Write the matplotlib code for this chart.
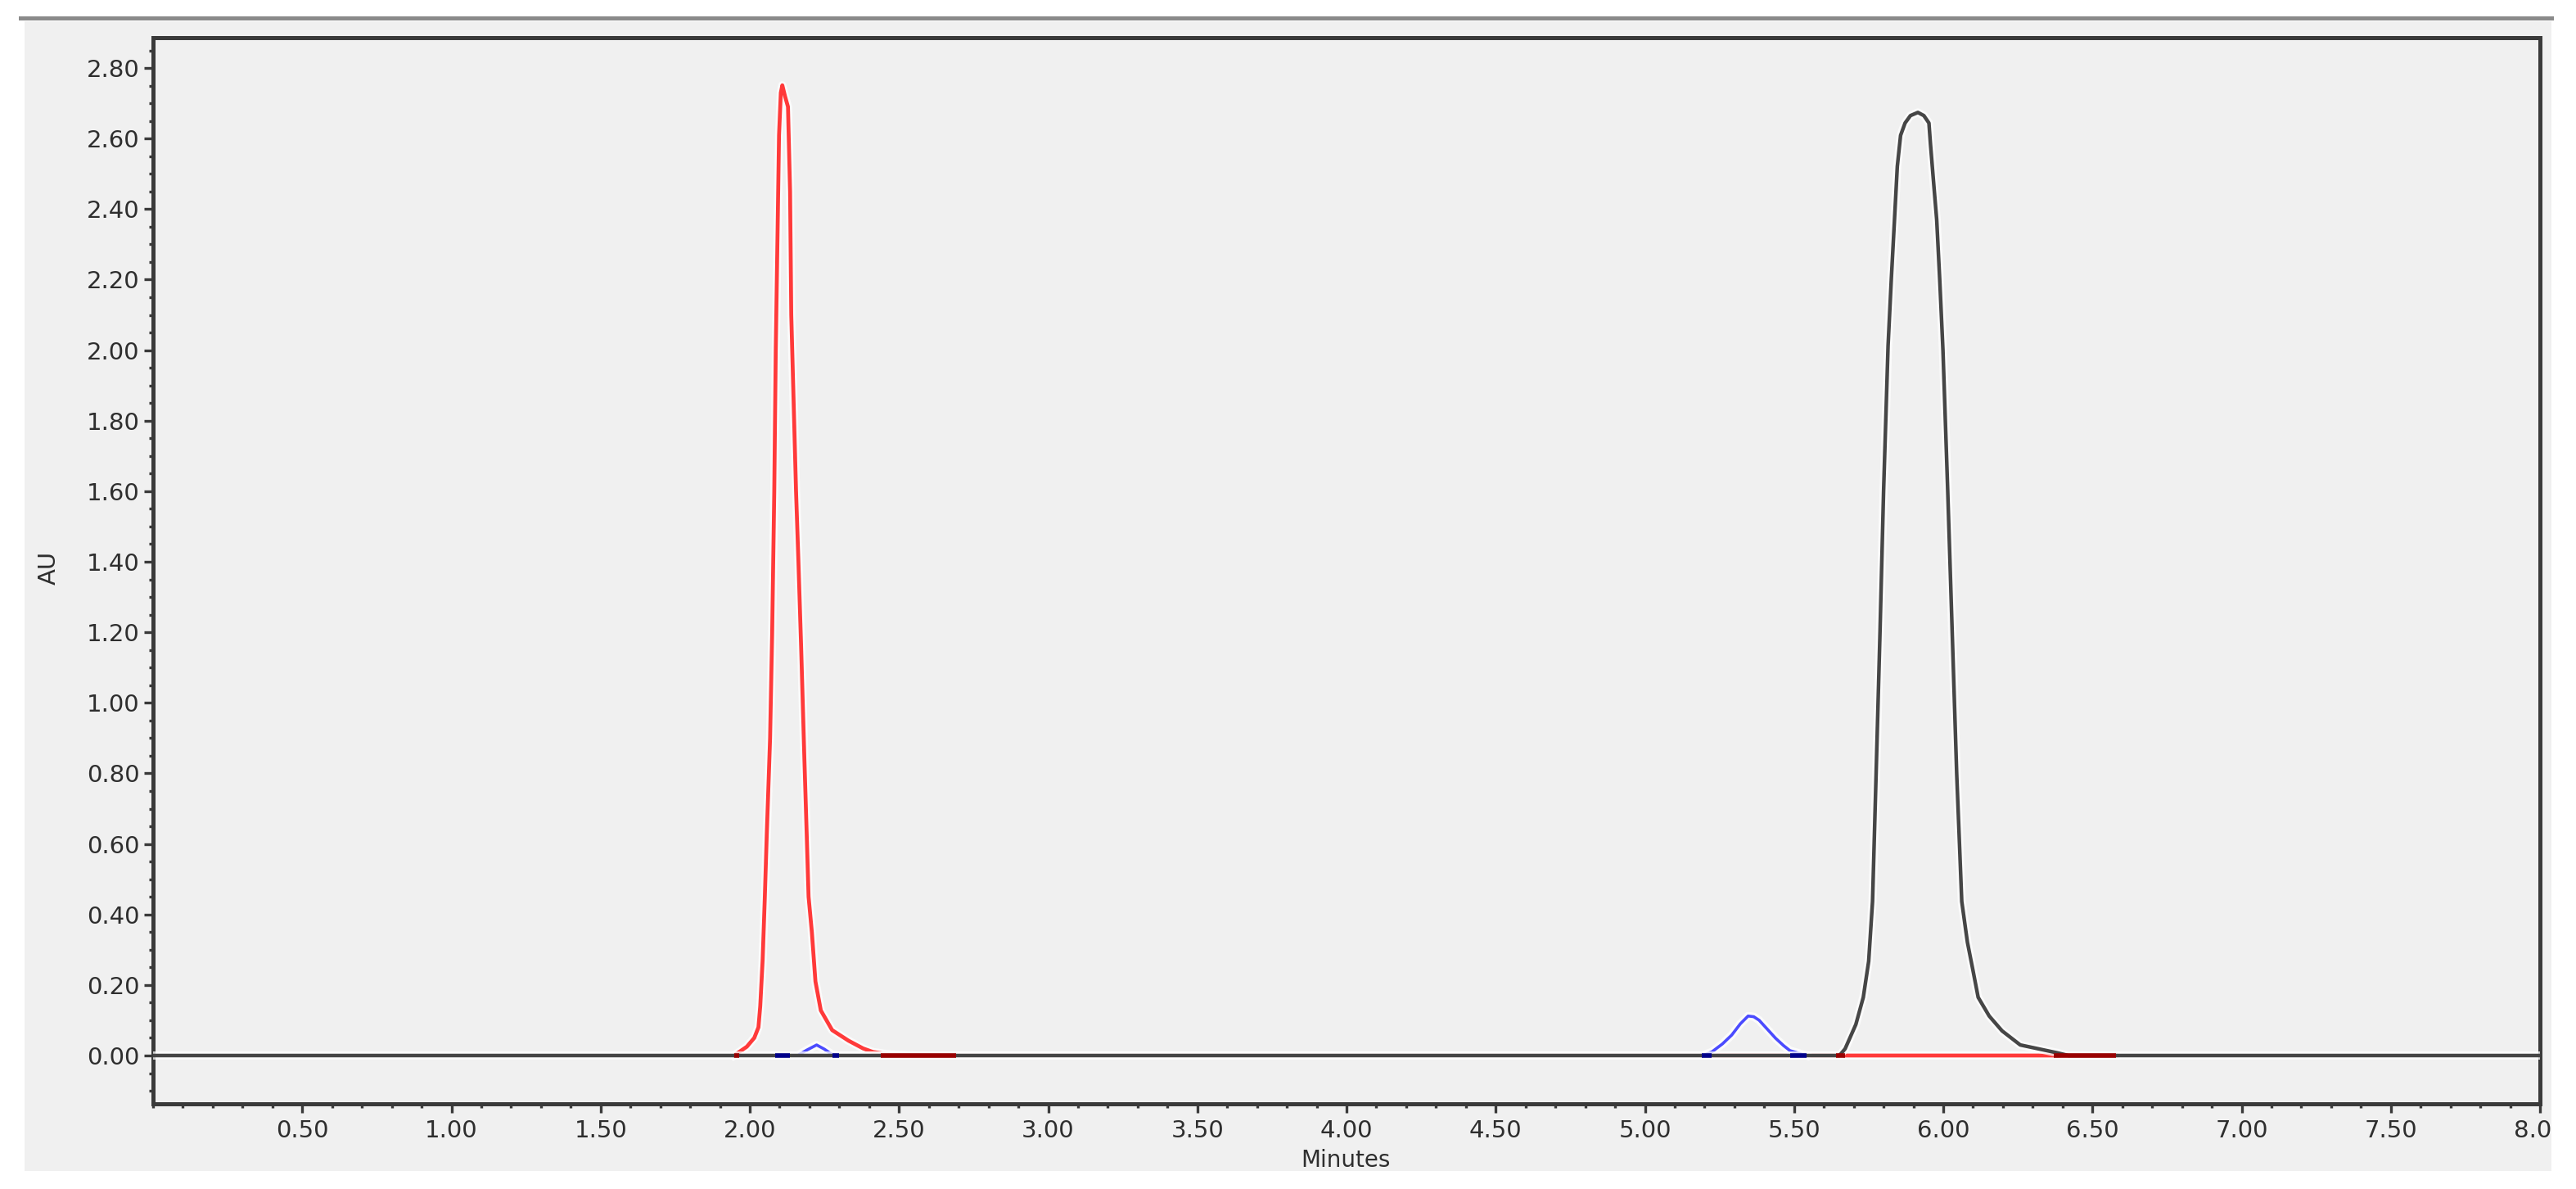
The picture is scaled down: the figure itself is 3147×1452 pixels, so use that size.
import matplotlib
matplotlib.use("Agg")
import matplotlib.pyplot as plt
import matplotlib.patheffects as pe
from matplotlib.patches import Rectangle
from matplotlib.lines import Line2D
from matplotlib.ticker import MultipleLocator, FixedLocator
from matplotlib.transforms import Bbox, TransformedBbox

plt.rcParams['font.family'] = ['DejaVu Sans']

# red trace (minutes, AU)
red_t = [1.947, 1.99, 2.015, 2.029, 2.035, 2.043, 2.050, 2.057, 2.068, 2.075,
         2.082, 2.087, 2.093, 2.098, 2.104, 2.109, 2.118, 2.128, 2.135, 2.139,
         2.147, 2.155, 2.163, 2.172, 2.183, 2.191, 2.197, 2.208, 2.220, 2.238,
         2.276, 2.331, 2.38, 2.413, 2.46, 2.55, 2.69, 5.64, 6.58]
red_au = [0.0, 0.025, 0.05, 0.08, 0.14, 0.27, 0.44, 0.63, 0.90, 1.20,
          1.60, 2.00, 2.33, 2.61, 2.73, 2.751, 2.72, 2.69, 2.45, 2.10,
          1.85, 1.60, 1.40, 1.16, 0.84, 0.62, 0.45, 0.35, 0.21, 0.128,
          0.072, 0.042, 0.02, 0.010, 0.004, 0.0, 0.0, 0.0, 0.0]

# black trace
black_t = [0.0, 5.652, 5.671, 5.707, 5.732, 5.750, 5.763, 5.775, 5.788, 5.800,
           5.815, 5.826, 5.836, 5.846, 5.857, 5.872, 5.890, 5.915, 5.935, 5.952,
           5.957, 5.967, 5.978, 5.988, 5.999, 6.015, 6.030, 6.045, 6.062, 6.081,
           6.099, 6.117, 6.154, 6.197, 6.258, 6.319, 6.380, 6.42, 8.0]
black_au = [0.0, 0.0, 0.019, 0.088, 0.165, 0.267, 0.437, 0.80, 1.20, 1.60,
            2.012, 2.203, 2.361, 2.521, 2.609, 2.644, 2.665, 2.674, 2.665, 2.644,
            2.586, 2.482, 2.370, 2.203, 2.0, 1.60, 1.20, 0.80, 0.437, 0.321,
            0.244, 0.165, 0.112, 0.070, 0.030, 0.019, 0.008, 0.0, 0.0]

# blue trace
blue_t = [2.084, 2.160, 2.190, 2.224, 2.250, 2.276, 2.30,
          5.192, 5.224, 5.260, 5.291, 5.320, 5.346, 5.365, 5.383, 5.410,
          5.438, 5.465, 5.486, 5.542]
blue_au = [0.0, 0.0, 0.015, 0.03, 0.018, 0.003, 0.0,
           0.0, 0.01, 0.033, 0.058, 0.09, 0.112, 0.110, 0.10, 0.075,
           0.049, 0.028, 0.014, 0.0]

# integration baseline marks (start, end) in minutes
red_marks = [(1.947, 1.964), (2.44, 2.69), (5.64, 5.67), (6.37, 6.58)]
blue_marks = [(2.084, 2.134), (2.276, 2.30), (5.192, 5.224), (5.486, 5.542)]

y_ticks = [0.0, 0.2, 0.4, 0.6, 0.8, 1.0, 1.2, 1.4, 1.6, 1.8, 2.0, 2.2, 2.4, 2.6, 2.8]
x_ticks = [0.5, 1.0, 1.5, 2.0, 2.5, 3.0, 3.5, 4.0, 4.5, 5.0, 5.5, 6.0, 6.5, 7.0, 7.5, 8.0]

W, H = 3147, 1452
fig = plt.figure(figsize=(W / 200, H / 200), dpi=200, facecolor='white')

# grey panel behind everything, with the dark rule along the top
fig.patches.append(Rectangle((30 / W, 1 - 1430 / H), 3087 / W, 1404 / H,
                             transform=fig.transFigure, facecolor='#f0f0f0',
                             edgecolor='none', zorder=-10))
fig.lines.append(Line2D([25 / W, 3117 / W], [1 - 22 / H, 1 - 22 / H],
                        transform=fig.transFigure, color='#8a8a8a', lw=1.8))

ax = fig.add_axes([187 / W, 1 - 1348 / H, 2916 / W, 1302 / H])
ax.set_facecolor('#f0f0f0')

halo = [pe.withStroke(linewidth=3.6, foreground='white', alpha=0.75)]
ax.plot(red_t, red_au, color='#ff3a3a', lw=1.7, zorder=2, path_effects=halo)
ax.plot(blue_t, blue_au, color='#4b4bff', lw=1.3, zorder=3, path_effects=halo)
ax.plot(black_t, black_au, color='#464646', lw=1.6, zorder=4, path_effects=halo)

for a, b in red_marks:
    ax.hlines(0, a, b, color='#9a0000', lw=2.0, zorder=5)
for a, b in blue_marks:
    ax.hlines(0, a, b, color='#00008b', lw=2.0, zorder=5)

ax.set_xlim(0, 8.0)
ax.set_ylim(-0.137, 2.886)

ax.yaxis.set_major_locator(FixedLocator(y_ticks))
ax.set_yticklabels(['%.2f' % v for v in y_ticks])
ax.yaxis.set_minor_locator(MultipleLocator(0.05))
ax.xaxis.set_major_locator(FixedLocator(x_ticks))
ax.set_xticklabels(['%.2f' % v for v in x_ticks])
ax.xaxis.set_minor_locator(MultipleLocator(0.1))

for s in ax.spines.values():
    s.set_color('#3a3a3a')
    s.set_linewidth(1.8)

ax.tick_params(which='major', direction='out', length=4, width=1.2,
               color='#3a3a3a', labelsize=10.5, labelcolor='#2e2e2e')
ax.tick_params(which='minor', direction='out', length=1.8, width=1.2,
               color='#3a3a3a')
ax.tick_params(axis='y', which='major', pad=2.0)
ax.tick_params(axis='x', which='major', pad=2.8)

# the last x label is cut off by the panel edge, as in the original export
clip = TransformedBbox(Bbox([[0, 0], [3117 / W, 1]]), fig.transFigure)
last = ax.get_xticklabels()[-1]
last.set_clip_on(True)
last.set_clip_box(clip)

fig.text(60 / W, 1 - 693 / H, 'AU', rotation=90, ha='center', va='center',
         fontsize=10.5, color='#2e2e2e')
fig.text(1644 / W, 1 - 1417 / H, 'Minutes', ha='center', va='center',
         fontsize=10, color='#2e2e2e')

fig.savefig('out.png', dpi=200, facecolor='white')
